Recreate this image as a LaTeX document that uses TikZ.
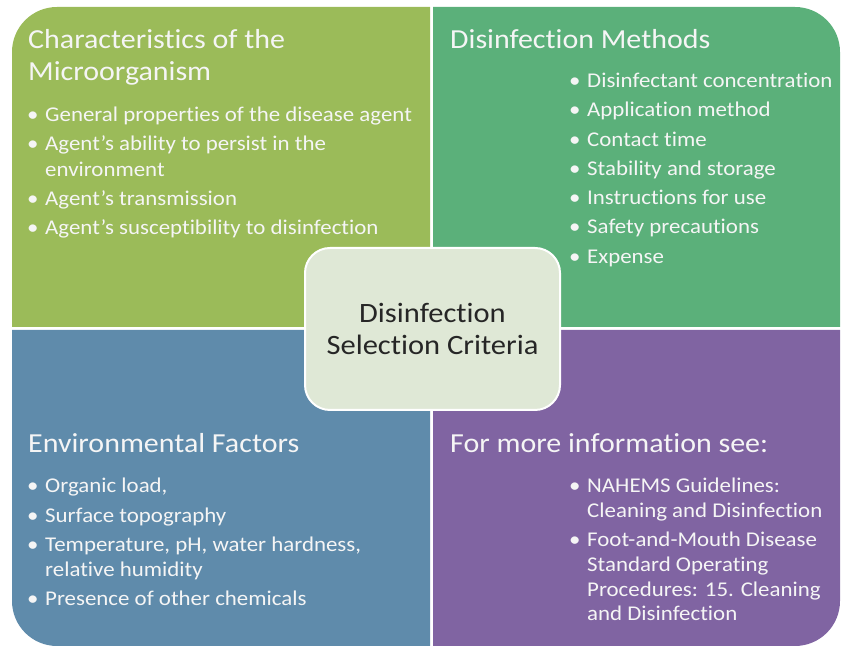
\documentclass[tikz,border=0pt]{standalone}
\usepackage{fontspec}
\setmainfont{Carlito}[Ligatures={NoCommon}, FakeStretch=1.09]
\definecolor{qgreen}{HTML}{9BBB59}
\definecolor{qteal}{HTML}{5BB07A}
\definecolor{qblue}{HTML}{5F8BAB}
\definecolor{qpurple}{HTML}{8064A2}
\definecolor{cfill}{HTML}{DFE8D6}
\definecolor{qtext}{HTML}{F5F5F5}
\begin{document}
\begin{tikzpicture}[x=1pt,y=1pt,
  ttl/.style={anchor=base west, inner sep=0pt, text=qtext, font=\fontsize{27.5}{30}\selectfont},
  itm/.style={anchor=base west, inner sep=0pt, text=qtext, font=\fontsize{21}{24}\selectfont},
  ctr/.style={anchor=base, inner sep=0pt, text=black!85, font=\fontsize{28}{32}\selectfont}]
\useasboundingbox (0,0) rectangle (841,647);
% quadrants
\fill[qgreen] (430,320) -- (12,320) -- (12,595) arc[start angle=180,end angle=90,radius=45] -- (430,640) -- cycle;
\fill[qteal] (433,320) -- (433,640) -- (795,640) arc[start angle=90,end angle=0,radius=45] -- (840,320) -- cycle;
\fill[qblue] (430,317) -- (12,317) -- (12,46) arc[start angle=180,end angle=270,radius=45] -- (430,1) -- cycle;
\fill[qpurple] (433,317) -- (433,1) -- (795,1) arc[start angle=270,end angle=360,radius=45] -- (840,317) -- cycle;
% top left
\node[ttl] (t1a) at (28,598) {Characteristics of the};
\node[ttl] (t1b) at (28,566) {Microorganism};
\node[itm] (b1a) at (27,525) {•}; \node[itm] (i1a) at (45,525) {General properties of the disease agent};
\node[itm] (b1b) at (27,496) {•}; \node[itm] (i1b) at (45,496) {Agent’s ability to persist in the};
\node[itm] (i1c) at (45,470) {environment};
\node[itm] (b1d) at (27,441) {•}; \node[itm] (i1d) at (45,441) {Agent’s transmission};
\node[itm] (b1e) at (27,412) {•}; \node[itm] (i1e) at (45,412) {Agent's susceptibility to disinfection};
% top right
\node[ttl] (t2) at (450,598) {Disinfection Methods};
\node[itm] (b2a) at (569,559) {•}; \node[itm] (i2a) at (587,559) {Disinfectant concentration};
\node[itm] (b2b) at (569,530) {•}; \node[itm] (i2b) at (587,530) {Application method};
\node[itm] (b2c) at (569,500) {•}; \node[itm] (i2c) at (587,500) {Contact time};
\node[itm] (b2d) at (569,471) {•}; \node[itm] (i2d) at (587,471) {Stability and storage};
\node[itm] (b2e) at (569,442) {•}; \node[itm] (i2e) at (587,442) {Instructions for use};
\node[itm] (b2f) at (569,413) {•}; \node[itm] (i2f) at (587,413) {Safety precautions};
\node[itm] (b2g) at (569,383) {•}; \node[itm] (i2g) at (587,383) {Expense};
% bottom left
\node[ttl] (t3) at (28,194) {Environmental Factors};
\node[itm] (b3a) at (27,154) {•}; \node[itm] (i3a) at (45,154) {Organic load,};
\node[itm] (b3b) at (27,124) {•}; \node[itm] (i3b) at (45,124) {Surface topography};
\node[itm] (b3c) at (27,95) {•}; \node[itm] (i3c) at (45,95) {Temperature, pH, water hardness,};
\node[itm] (i3d) at (45,70) {relative humidity};
\node[itm] (b3e) at (27,41) {•}; \node[itm] (i3e) at (45,41) {Presence of other chemicals};
% bottom right
\node[ttl] (t4) at (450,194) {For more information see:};
\node[itm] (b4a) at (569,154) {•}; \node[itm] (i4a) at (587,154) {NAHEMS Guidelines:};
\node[itm] (i4b) at (587,129) {Cleaning and Disinfection};
\node[itm] (b4c) at (569,100) {•}; \node[itm] (i4c) at (587,100) {Foot-and-Mouth Disease};
\node[itm] (i4d) at (587,75) {Standard Operating};
\node[itm] (i4e) at (587,50) {Procedures: 15. Cleaning};
\node[itm] (i4f) at (587,26) {and Disinfection};
% center
\node[draw=white, line width=2pt, fill=cfill, rounded corners=25pt, minimum width=255pt, minimum height=162pt] (center) at (432.5,318) {};
\node[ctr] (c1) at (432.5,324) {Disinfection};
\node[ctr] (c2) at (432.5,292) {Selection Criteria};
\end{tikzpicture}
\end{document}
